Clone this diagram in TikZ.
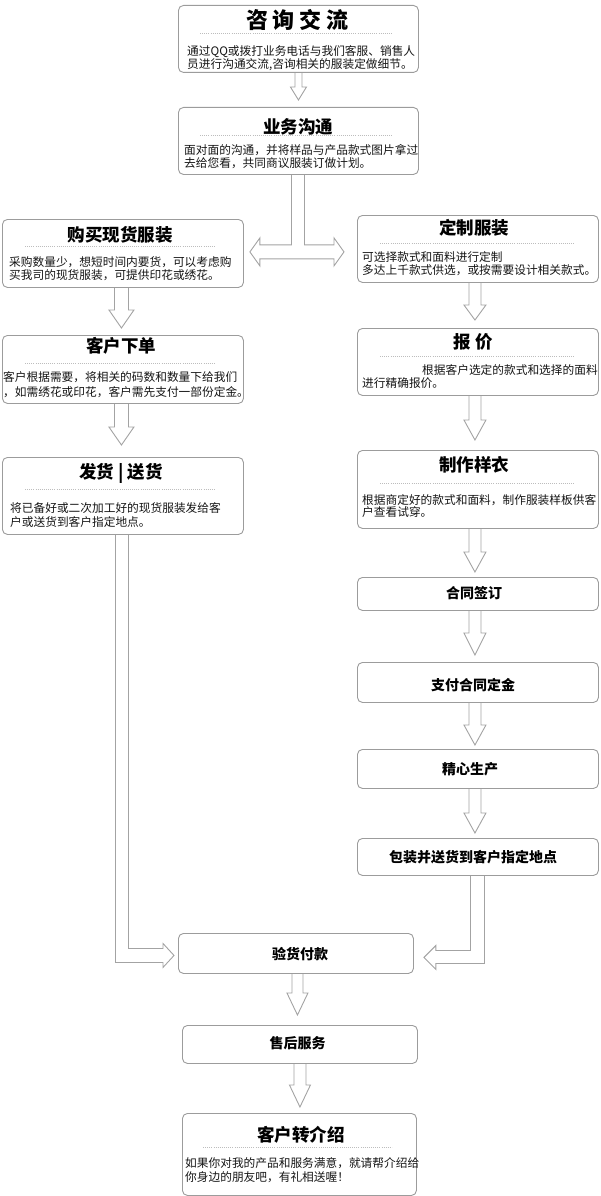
\documentclass[tikz,border=0pt]{standalone}
\usepackage{fontspec}
\setmainfont{Noto Sans CJK SC}
\usetikzlibrary{calc}
\pgfdeclarelayer{bg}
\pgfsetlayers{bg,main}
\definecolor{boxgray}{HTML}{9C9C9C}
\definecolor{arrgray}{HTML}{A3A3A3}
\definecolor{dotgray}{HTML}{BDBDBD}
\definecolor{txt}{HTML}{151515}
\tikzset{
  box/.style={draw=boxgray, line width=0.9pt, rounded corners=5pt, anchor=north west, inner sep=0pt, fill=white},
  bigttl/.style={font=\bfseries\fontsize{22}{24}\selectfont, text=black, inner sep=0pt},
  ttl/.style={font=\bfseries\fontsize{17.5}{20}\selectfont, text=black, inner sep=0pt},
  sttl/.style={font=\bfseries\fontsize{14}{16}\selectfont, text=black, inner sep=0pt},
  body/.style={font=\fontsize{11.7}{14}\selectfont, text=txt, inner sep=0pt, anchor=base west},
  sep/.style={draw=dotgray, line width=0.8pt, dash pattern=on 0.7pt off 1.4pt},
  blk/.style={draw=arrgray, line width=0.9pt, fill=white, line join=miter},
}
% box: name, x, y, width, height
\newcommand{\mkbox}[5]{\node[box, minimum width=#4pt, minimum height=#5pt] (#1) at (#2,#3) {};}
% block arrow down: from, to, shaft half, head half, head length, gap, dx
\newcommand{\blkdown}[7]{%
  \draw[blk] let \p1=($(#1.south)+(#7,0)$), \p2=(#2.north) in
    (\x1-#3pt,\y1) -- (\x1-#3pt,\y2+#6pt+#5pt) -- (\x1-#4pt,\y2+#6pt+#5pt) -- (\x1,\y2+#6pt)
    -- (\x1+#4pt,\y2+#6pt+#5pt) -- (\x1+#3pt,\y2+#6pt+#5pt) -- (\x1+#3pt,\y1);}
\begin{document}
\begin{tikzpicture}[x=1pt,y=-1pt]
\useasboundingbox (0,0) rectangle (600,1196);
% boxes
\mkbox{b1}{178}{5}{240}{67}
\mkbox{b2}{178}{107}{240}{67}
\mkbox{b3}{2}{219}{241}{68}
\mkbox{b4}{357}{215}{241}{67}
\mkbox{b5}{2}{335}{241}{68}
\mkbox{b6}{2}{457}{241}{77}
\mkbox{b7}{357}{328}{241}{67}
\mkbox{b8}{357}{450}{241}{78}
\mkbox{b9}{357}{577}{241}{33}
\mkbox{b10}{357}{662}{241}{40}
\mkbox{b11}{357}{749}{241}{39}
\mkbox{b12}{357}{838}{241}{37}
\mkbox{b13}{178}{933}{235}{40}
\mkbox{b14}{182}{1025}{235}{38}
\mkbox{b15}{182}{1113}{234}{82}
% titles
\node[bigttl] (t1) at (297.5,20) {咨\hspace{5pt}询\hspace{5pt}交\hspace{5pt}流};
\node[ttl] (t2) at (298,127) {业务沟通};
\node[ttl] (t3) at (120,235) {购买现货服装};
\node[ttl] (t4) at (474,228) {定制服装};
\node[ttl] (t5) at (121,346) {客户下单};
\node[ttl] (t6) at (121,473) {发货 | 送货};
\node[ttl] (t7) at (473,342) {报 价};
\node[ttl] (t8) at (474,465) {制作样衣};
\node[ttl] (t15) at (301,1135) {客户转介绍};
\node[sttl] (t9) at (474,593) {合同签订};
\node[sttl] (t10) at (473,685) {支付合同定金};
\node[sttl] (t11) at (470,769) {精心生产};
\node[sttl] (t12) at (473,857) {包装并送货到客户指定地点};
\node[sttl] (t13) at (300,954) {验货付款};
\node[sttl] (t14) at (297.5,1043) {售后服务};
% dotted separators
\draw[sep] (200,33) -- (392,33);
\draw[sep] (200,135) -- (392,135);
\draw[sep] (25,246) -- (215,246);
\draw[sep] (25,363) -- (215,363);
\draw[sep] (25,489) -- (215,489);
\draw[sep] (380,243) -- (575,243);
\draw[sep] (380,356) -- (575,356);
\draw[sep] (380,483) -- (575,483);
\draw[sep] (203,1147) -- (392,1147);
% body texts
\node[body] (l1a) at (187,55.5) {通过QQ或拨打业务电话与我们客服、销售人};
\node[body] (l1b) at (187,68.5) {员进行沟通交流,咨询相关的服装定做细节。};
\node[body] (l2a) at (184,154.5) {面对面的沟通，并将样品与产品款式图片拿过};
\node[body] (l2b) at (184,167.5) {去给您看，共同商议服装订做计划。};
\node[body] (l3a) at (9,266.5) {采购数量少，想短时间内要货，可以考虑购};
\node[body] (l3b) at (9,279.5) {买我司的现货服装，可提供印花或绣花。};
\node[body] (l5a) at (3,381.5) {客户根据需要，将相关的码数和数量下给我们};
\node[body] (l5b) at (3,396.5) {，如需绣花或印花，客户需先支付一部份定金。};
\node[body] (l6a) at (10,512.5) {将已备好或二次加工好的现货服装发给客};
\node[body] (l6b) at (10,526.5) {户或送货到客户指定地点。};
\node[body] (l4a) at (362,261.5) {可选择款式和面料进行定制};
\node[body] (l4b) at (362,274.5) {多达上千款式供选，或按需要设计相关款式。};
\node[body] (l7a) at (422,374.5) {根据客户选定的款式和选择的面料};
\node[body] (l7b) at (362,387.5) {进行精确报价。};
\node[body] (l8a) at (362,504.5) {根据商定好的款式和面料，制作服装样板供客};
\node[body] (l8b) at (362,516.5) {户查看试穿。};
\node[body] (l15a) at (185,1167.5) {如果你对我的产品和服务满意，就请帮介绍给};
\node[body] (l15b) at (185,1181.5) {你身边的朋友吧，有礼相送喔！};
% arrows
\begin{pgfonlayer}{bg}
\blkdown{b1}{b2}{3.5}{8}{13}{7}{0}
\blkdown{b3}{b5}{7}{12.5}{18}{7}{-1.5}
\blkdown{b5}{b6}{7}{12.5}{18}{12}{-1.5}
\blkdown{b4}{b7}{6}{11}{15}{8}{-3}
\blkdown{b7}{b8}{6}{11}{20}{10}{-3}
\blkdown{b8}{b9}{6}{11}{20}{5}{-3}
\blkdown{b9}{b10}{6}{11}{22}{7}{-3}
\blkdown{b10}{b11}{6}{11}{20}{4}{-3}
\blkdown{b11}{b12}{6}{11}{20}{5}{-3}
\blkdown{b13}{b14}{5.5}{10.5}{22}{10}{1.5}
\blkdown{b14}{b15}{6}{10.5}{22}{6}{0}
% split arrow
\draw[blk] let \p1=(b2.south), \p2=(b3.east), \p3=(b4.west) in
  (\x1-7pt,\y1) -- (\x1-7pt,\y1-70pt) -- (\x2+16pt,\y1-70pt) -- (\x2+16pt,\y1-63pt)
  -- (\x2+6pt,\y1-77pt) -- (\x2+16pt,\y1-91pt) -- (\x2+16pt,\y1-84pt)
  -- (\x3-23pt,\y1-84pt) -- (\x3-23pt,\y1-91pt) -- (\x3-13pt,\y1-77pt)
  -- (\x3-23pt,\y1-63pt) -- (\x3-23pt,\y1-70pt) -- (\x1+6pt,\y1-70pt) -- (\x1+6pt,\y1);
% left bent arrow
\draw[blk] let \p1=(b6.south), \p2=(b13.west) in
  (\x1-7.5pt,\y1) -- (\x1-7.5pt,\y2-9pt) -- (\x2-15pt,\y2-9pt) -- (\x2-15pt,\y2-14pt)
  -- (\x2-4pt,\y2-2pt) -- (\x2-15pt,\y2+10pt) -- (\x2-15pt,\y2+5pt)
  -- (\x1+5.5pt,\y2+5pt) -- (\x1+5.5pt,\y1);
% right bent arrow
\draw[blk] let \p1=(b12.south), \p2=(b13.east) in
  (\x1-7.5pt,\y1) -- (\x1-7.5pt,\y2+3pt) -- (\x2+22pt,\y2+3pt) -- (\x2+22pt,\y2+8pt)
  -- (\x2+10pt,\y2-4pt) -- (\x2+22pt,\y2-16pt) -- (\x2+22pt,\y2-10pt)
  -- (\x1+6.5pt,\y2-10pt) -- (\x1+6.5pt,\y1);
\end{pgfonlayer}
\end{tikzpicture}
\end{document}
